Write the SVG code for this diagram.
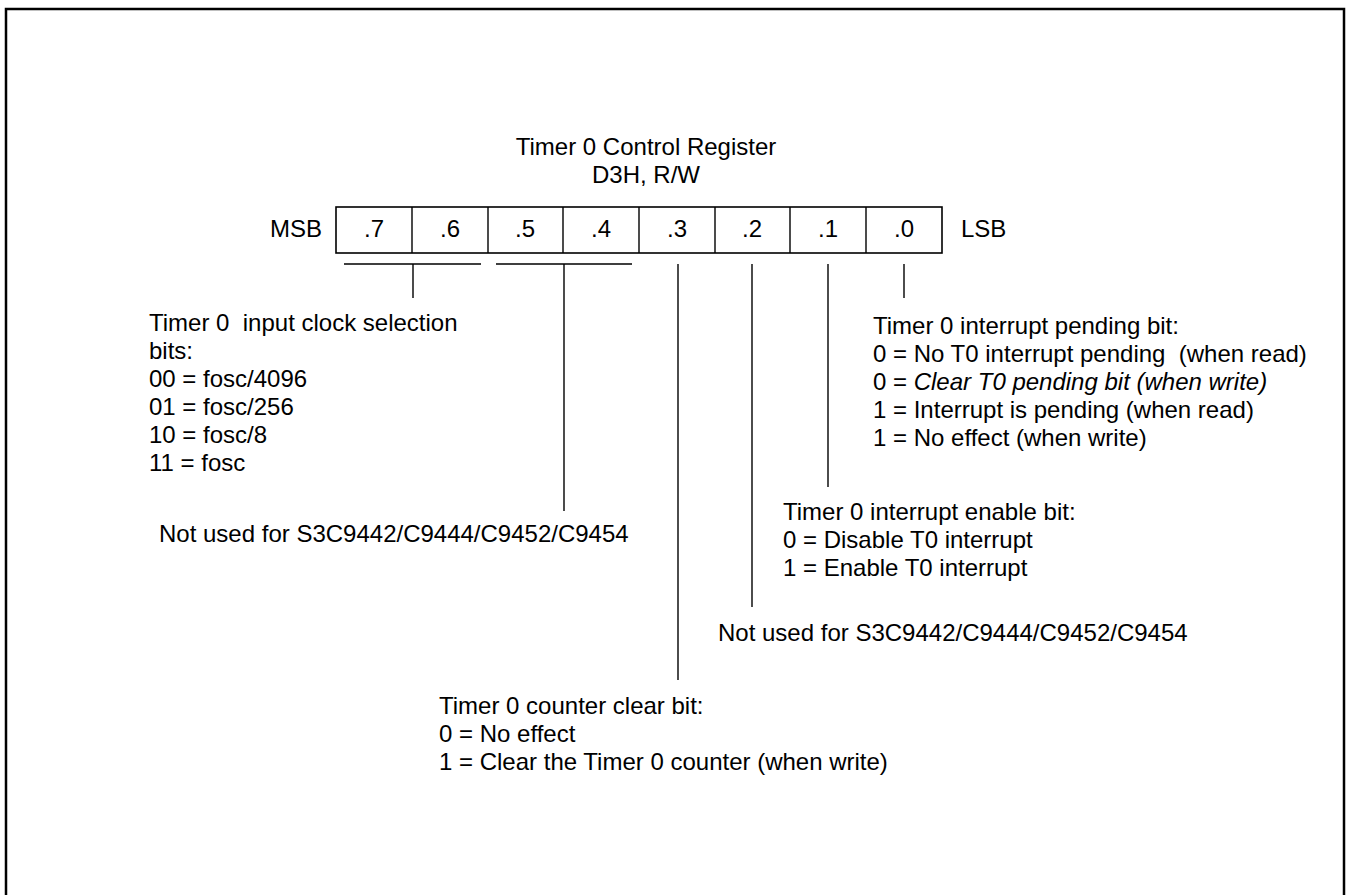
<svg xmlns="http://www.w3.org/2000/svg" width="1348" height="895" viewBox="0 0 1348 895">
<style>
text{font-family:"Liberation Sans",Arial,sans-serif;font-size:24px;fill:#000}
.c{text-anchor:middle}
.e{text-anchor:end}
.ln{stroke:#000;stroke-width:1.4;fill:none}
.box{stroke:#000;stroke-width:1.6;fill:#fff}
</style>
<rect x="6" y="9" width="1338" height="900" fill="none" stroke="#000" stroke-width="2.5"/>
<g id="title">
<text class="c" x="646" y="155">Timer 0 Control Register</text>
<text class="c" x="646" y="183">D3H, R/W</text>
</g>
<g id="register">
<text class="e" x="322" y="237">MSB</text>
<rect class="box" x="336" y="207" width="606" height="46"/>
<path class="ln" d="M412 207V253M488 207V253M563 207V253M639 207V253M715 207V253M790 207V253M866 207V253"/>
<text class="c" x="374" y="237">.7</text>
<text class="c" x="450" y="237">.6</text>
<text class="c" x="525" y="237">.5</text>
<text class="c" x="601" y="237">.4</text>
<text class="c" x="677" y="237">.3</text>
<text class="c" x="752" y="237">.2</text>
<text class="c" x="828" y="237">.1</text>
<text class="c" x="904" y="237">.0</text>
<text x="961" y="237">LSB</text>
</g>
<g id="connectors">
<path class="ln" d="M344 264H481M413 264V298"/>
<path class="ln" d="M496 264H632M564 264V511"/>
<path class="ln" d="M678 264V680"/>
<path class="ln" d="M752 264V607"/>
<path class="ln" d="M828 264V487"/>
<path class="ln" d="M904 264V298"/>
</g>
<g id="clock-select">
<text x="149" y="331" xml:space="preserve">Timer 0  input clock selection</text>
<text x="149" y="359">bits:</text>
<text x="149" y="387">00 = fosc/4096</text>
<text x="149" y="415">01 = fosc/256</text>
<text x="149" y="443">10 = fosc/8</text>
<text x="149" y="471">11 = fosc</text>
</g>
<g id="not-used-54">
<text x="159" y="542">Not used for S3C9442/C9444/C9452/C9454</text>
</g>
<g id="pending">
<text x="873" y="334">Timer 0 interrupt pending bit:</text>
<text x="873" y="362" xml:space="preserve">0 = No T0 interrupt pending  (when read)</text>
<text x="873" y="390">0 = <tspan font-style="italic">Clear T0 pending bit (when write)</tspan></text>
<text x="873" y="418">1 = Interrupt is pending (when read)</text>
<text x="873" y="446">1 = No effect (when write)</text>
</g>
<g id="enable">
<text x="783" y="520">Timer 0 interrupt enable bit:</text>
<text x="783" y="548">0 = Disable T0 interrupt</text>
<text x="783" y="576">1 = Enable T0 interrupt</text>
</g>
<g id="not-used-2">
<text x="718" y="641">Not used for S3C9442/C9444/C9452/C9454</text>
</g>
<g id="counter-clear">
<text x="439" y="714">Timer 0 counter clear bit:</text>
<text x="439" y="742">0 = No effect</text>
<text x="439" y="770">1 = Clear the Timer 0 counter (when write)</text>
</g>
</svg>
